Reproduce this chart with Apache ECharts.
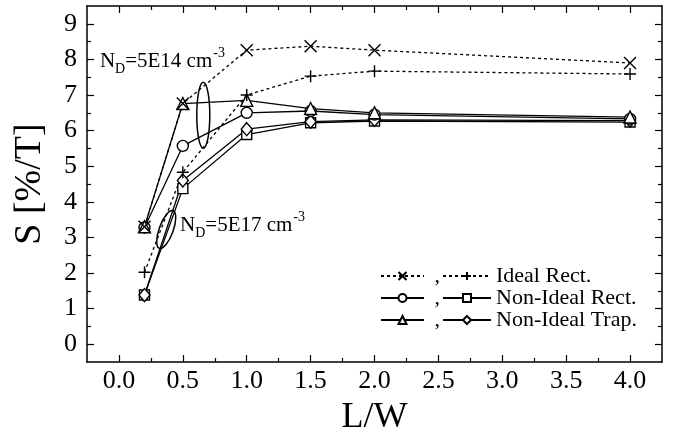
<!DOCTYPE html>
<html>
<head>
<meta charset="utf-8">
<script src="https://cdn.jsdelivr.net/npm/echarts@6/dist/echarts.min.js"></script>
<style>html,body{margin:0;padding:0;background:#fff;}#c{width:677px;height:439px;}</style>
</head>
<body>
<div id="c"></div>
<script>
// ---- data ----
const xValues = [0.2, 0.5, 1.0, 1.5, 2.0, 4.0];
const idealRectX      = [3.30, 6.76, 8.26, 8.37, 8.26, 7.90];
const idealRectPlus   = [2.02, 4.83, 7.00, 7.53, 7.67, 7.59];
const nonIdealRectCircle = [3.28, 5.57, 6.50, 6.55, 6.45, 6.33];
const nonIdealRectSquare = [1.38, 4.37, 5.89, 6.22, 6.27, 6.24];
const nonIdealTrapTriangle = [3.30, 6.76, 6.85, 6.62, 6.50, 6.38];
const nonIdealTrapDiamond  = [1.38, 4.60, 6.04, 6.25, 6.30, 6.28];

const xMajorTicks = [0, 0.5, 1.0, 1.5, 2.0, 2.5, 3.0, 3.5, 4.0];
const xMinorTicks = [0.25, 0.75, 1.25, 1.75, 2.25, 2.75, 3.25, 3.75];
const yMajorTicks = [0, 1, 2, 3, 4, 5, 6, 7, 8, 9];
const yMinorTicks = [0.5, 1.5, 2.5, 3.5, 4.5, 5.5, 6.5, 7.5, 8.5];

// annotations (data coordinates)
const annoTexts = [
  { x: -0.149, y: 8.24, main: 'N', sub: 'D', rest: '=5E14 cm', sup: '-3' },
  { x: 0.478, y: 3.62, main: 'N', sub: 'D', rest: '=5E17 cm', sup: '-3' }
];
const annoEllipses = [
  { x: 0.66, y: 6.43, rx: 6.5, ry: 33, rot: 0 },
  { x: 0.37, y: 3.22, rx: 7, ry: 20, rot: -0.35 }
];

const FONT = '"Liberation Serif", "DejaVu Serif", serif';
const X_SYM = 'path://M0,0L10,10M10,0L0,10';
const P_SYM = 'path://M5,0L5,10M0,5L10,5';

function mkSeries(name, vals, symbol, size, dashed, z) {
  return {
    type: 'line', name: name,
    data: xValues.map((x, i) => [x, vals[i]]),
    symbol: symbol, symbolSize: size, showAllSymbol: true,
    lineStyle: { color: '#000', width: 1.3, type: dashed ? [3, 3] : 'solid' },
    itemStyle: { color: '#fff', borderColor: '#000', borderWidth: 1.4 },
    emphasis: { disabled: true },
    z: z, animation: false
  };
}

function xAxisDef(pos, ticks, len, showLine, showLabel, extra) {
  return Object.assign({
    type: 'value', position: pos, min: -0.25, max: 4.25,
    axisLine: { show: showLine, onZero: false, lineStyle: { color: '#000', width: 1.5 } },
    axisTick: { show: true, inside: true, length: len, customValues: ticks, lineStyle: { color: '#000', width: 1.2 } },
    axisLabel: { show: showLabel, customValues: ticks, fontFamily: FONT, fontSize: 26, color: '#000', margin: 6,
                 formatter: v => v.toFixed(1) },
    splitLine: { show: false }
  }, extra || {});
}
function yAxisDef(pos, ticks, len, showLine, showLabel, extra) {
  return Object.assign({
    type: 'value', position: pos, min: -0.5, max: 9.5,
    axisLine: { show: showLine, onZero: false, lineStyle: { color: '#000', width: 1.5 } },
    axisTick: { show: true, inside: true, length: len, customValues: ticks, lineStyle: { color: '#000', width: 1.2 } },
    axisLabel: { show: showLabel, customValues: ticks, fontFamily: FONT, fontSize: 26, color: '#000', margin: 10,
                 formatter: v => String(v) },
    splitLine: { show: false }
  }, extra || {});
}

const chart = echarts.init(document.getElementById('c'), null, { renderer: 'canvas' });
const option = {
  backgroundColor: '#fff',
  animation: false,
  grid: { left: 87, right: 15, top: 6, bottom: 77, containLabel: false, outerBoundsMode: 'none' },
  xAxis: [
    xAxisDef('bottom', xMajorTicks, 7, true, true, {
      name: 'L/W', nameLocation: 'middle', nameGap: 38,
      nameTextStyle: { fontFamily: FONT, fontSize: 36, color: '#000' }
    }),
    xAxisDef('bottom', xMinorTicks, 4, false, false),
    xAxisDef('top', xMajorTicks, 7, true, false),
    xAxisDef('top', xMinorTicks, 4, false, false)
  ],
  yAxis: [
    yAxisDef('left', yMajorTicks, 7, true, true, {
      name: 'S [%/T]', nameLocation: 'middle', nameGap: 38, nameRotate: 90,
      nameTextStyle: { fontFamily: FONT, fontSize: 38, color: '#000' }
    }),
    yAxisDef('left', yMinorTicks, 4, false, false),
    yAxisDef('right', yMajorTicks, 7, true, false),
    yAxisDef('right', yMinorTicks, 4, false, false)
  ],
  legend: [
    {
      data: ['Ideal Rect. (×)', 'Non-Ideal Rect. (○)', 'Non-Ideal Trap. (△)'],
      orient: 'vertical', left: 380, top: 265, padding: 0, itemGap: 0,
      itemWidth: 43, itemHeight: 10, selectedMode: false,
      formatter: () => ' ,',
      textStyle: { fontFamily: FONT, fontSize: 22, color: '#000', lineHeight: 19 }
    },
    {
      data: ['Ideal Rect. (+)', 'Non-Ideal Rect. (□)', 'Non-Ideal Trap. (◇)'],
      orient: 'vertical', left: 442, top: 265, padding: 0, itemGap: 0,
      itemWidth: 48, itemHeight: 10, selectedMode: false,
      formatter: n => n.replace(/ \(.*\)$/, ''),
      textStyle: { fontFamily: FONT, fontSize: 22, color: '#000', lineHeight: 19 }
    }
  ],
  series: [
    mkSeries('Non-Ideal Rect. (□)', nonIdealRectSquare, 'rect', 10, false, 2),
    mkSeries('Non-Ideal Trap. (◇)', nonIdealTrapDiamond, 'diamond', [11, 13], false, 2),
    mkSeries('Non-Ideal Rect. (○)', nonIdealRectCircle, 'circle', 11, false, 2),
    mkSeries('Non-Ideal Trap. (△)', nonIdealTrapTriangle, 'triangle', 12, false, 2),
    mkSeries('Ideal Rect. (+)', idealRectPlus, P_SYM, 12, true, 2),
    mkSeries('Ideal Rect. (×)', idealRectX, X_SYM, 12, true, 2)
  ]
};
chart.setOption(option);

// text measuring helper for the sub/superscript annotations
const mctx = document.createElement('canvas').getContext('2d');
function tw(str, size) { mctx.font = size + 'px ' + FONT; return mctx.measureText(str).width; }

const MAIN = 21, SMALL = 14;
const graphics = [];
annoTexts.forEach(a => {
  const p = chart.convertToPixel({ gridIndex: 0 }, [a.x, a.y]);
  const w1 = tw(a.main, MAIN), w2 = tw(a.sub, SMALL), w3 = tw(a.rest, MAIN);
  const base = { fontFamily: FONT, fill: '#000', verticalAlign: 'top', align: 'left' };
  graphics.push({
    type: 'group', x: p[0], y: p[1], z: 10,
    children: [
      { type: 'text', x: 0, y: 0, style: Object.assign({ text: a.main, fontSize: MAIN }, base) },
      { type: 'text', x: w1, y: 11, style: Object.assign({ text: a.sub, fontSize: SMALL }, base) },
      { type: 'text', x: w1 + w2, y: 0, style: Object.assign({ text: a.rest, fontSize: MAIN }, base) },
      { type: 'text', x: w1 + w2 + w3 + 1, y: -5, style: Object.assign({ text: a.sup, fontSize: SMALL }, base) }
    ]
  });
});
annoEllipses.forEach(e => {
  const p = chart.convertToPixel({ gridIndex: 0 }, [e.x, e.y]);
  graphics.push({
    type: 'ellipse', x: p[0], y: p[1], rotation: e.rot, z: 10,
    shape: { cx: 0, cy: 0, rx: e.rx, ry: e.ry },
    style: { fill: 'none', stroke: '#000', lineWidth: 1.5 }
  });
});
chart.setOption({ graphic: graphics });
</script>
</body>
</html>
